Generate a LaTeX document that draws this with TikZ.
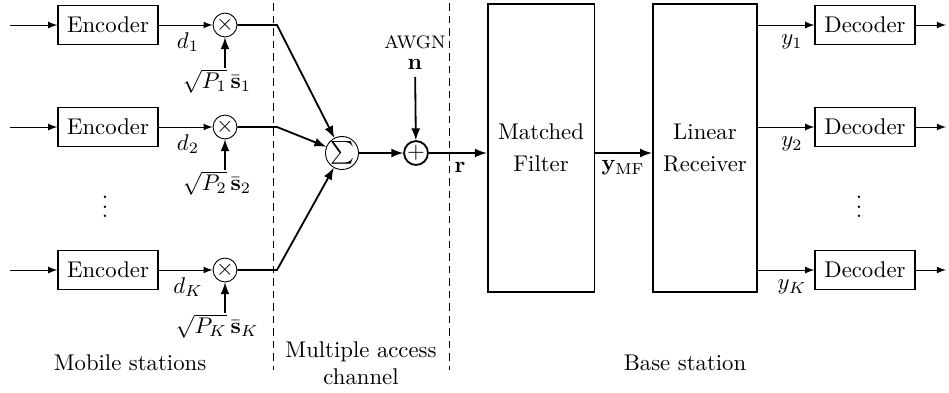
\documentclass[tikz,border=0pt]{standalone}
\usepackage{amsmath}
\usepackage{amssymb}
\usepackage{tikz}

\tikzset{
  blk/.style={draw, semithick, minimum width=44pt, minimum height=17pt, inner sep=1pt},
  bigblk/.style={draw, thick, minimum width=47pt, minimum height=127pt, align=center},
  mult/.style={draw, circle, minimum size=10.5pt, inner sep=0pt},
  adder/.style={draw, thick, circle, minimum size=10.5pt, inner sep=0pt},
  summer/.style={draw, circle, minimum size=14.5pt, inner sep=0pt},
  sig/.style={thick, -latex}
}

\begin{document}
\begin{tikzpicture}[x=0.44pt, y=-0.44pt]
\useasboundingbox (0,0) rectangle (949,392);
\draw[dash pattern=on 3.5pt off 2pt] (273,3) -- (273,370);
\draw[dash pattern=on 3.5pt off 2pt] (449,3) -- (449,370);
\node[summer] (sum) at (342,153) {$\sum$};
\node[adder] (add) at (416,153) {$+$};
\foreach \i/\y in {1/25,2/127,K/270}{
  \coordinate (in\i) at (10,\y);
  \node[blk] (enc\i) at (108,\y) {Encoder};
  \node[mult] (mul\i) at (225,\y) {$\times$};
  \node (d\i) at (188,{\y+17}) {$d_{\i}$};
  \node (amp\i) at (217,{\y+56}) {$\sqrt{P_{\i}}\,\bar{\mathbf{s}}_{\i}$};
  \coordinate (up\i) at (225,{\y+43});
  \coordinate (bend\i) at (277,\y);
  \draw[-latex] (in\i) -- (enc\i);
  \draw[-latex] (enc\i) -- (mul\i);
  \draw[sig] (up\i) -- (mul\i);
  \draw[sig] (mul\i) -- (bend\i) -- (sum);
}
\node (dots1) at (105,200) {$\vdots$};
\draw[sig] (sum) -- (add);
\node[font=\footnotesize] (awgn) at (415,42) {AWGN};
\node (noise) at (415,64) {$\mathbf{n}$};
\draw[sig] (noise) -- (add);
\node[bigblk] (mf) at (541,148) {Matched\\[2pt]Filter};
\node[bigblk, minimum width=46pt] (lr) at (705,148) {Linear\\[2pt]Receiver};
\draw[sig] (add) -- (add -| mf.west);
\node (r) at (460,167) {$\mathbf{r}$};
\draw[sig] (mf.east |- add) -- (lr.west |- add);
\node (ymf) at (623,168) {$\mathbf{y}_{\mathrm{MF}}$};
\foreach \i/\y in {1/25,2/127,K/270}{
  \node[blk] (dec\i) at (865,\y) {Decoder};
  \node (y\i) at (792,{\y+17}) {$y_{\i}$};
  \coordinate (out\i) at (946,\y);
  \draw[-latex] (lr.east |- dec\i) -- (dec\i);
  \draw[-latex] (dec\i) -- (out\i);
}
\node (dots2) at (859,200) {$\vdots$};
\node (ms) at (130,363) {Mobile stations};
\node[align=center] (mac) at (361,363) {Multiple access\\channel};
\node (bs) at (685,363) {Base station};
\end{tikzpicture}
\end{document}
